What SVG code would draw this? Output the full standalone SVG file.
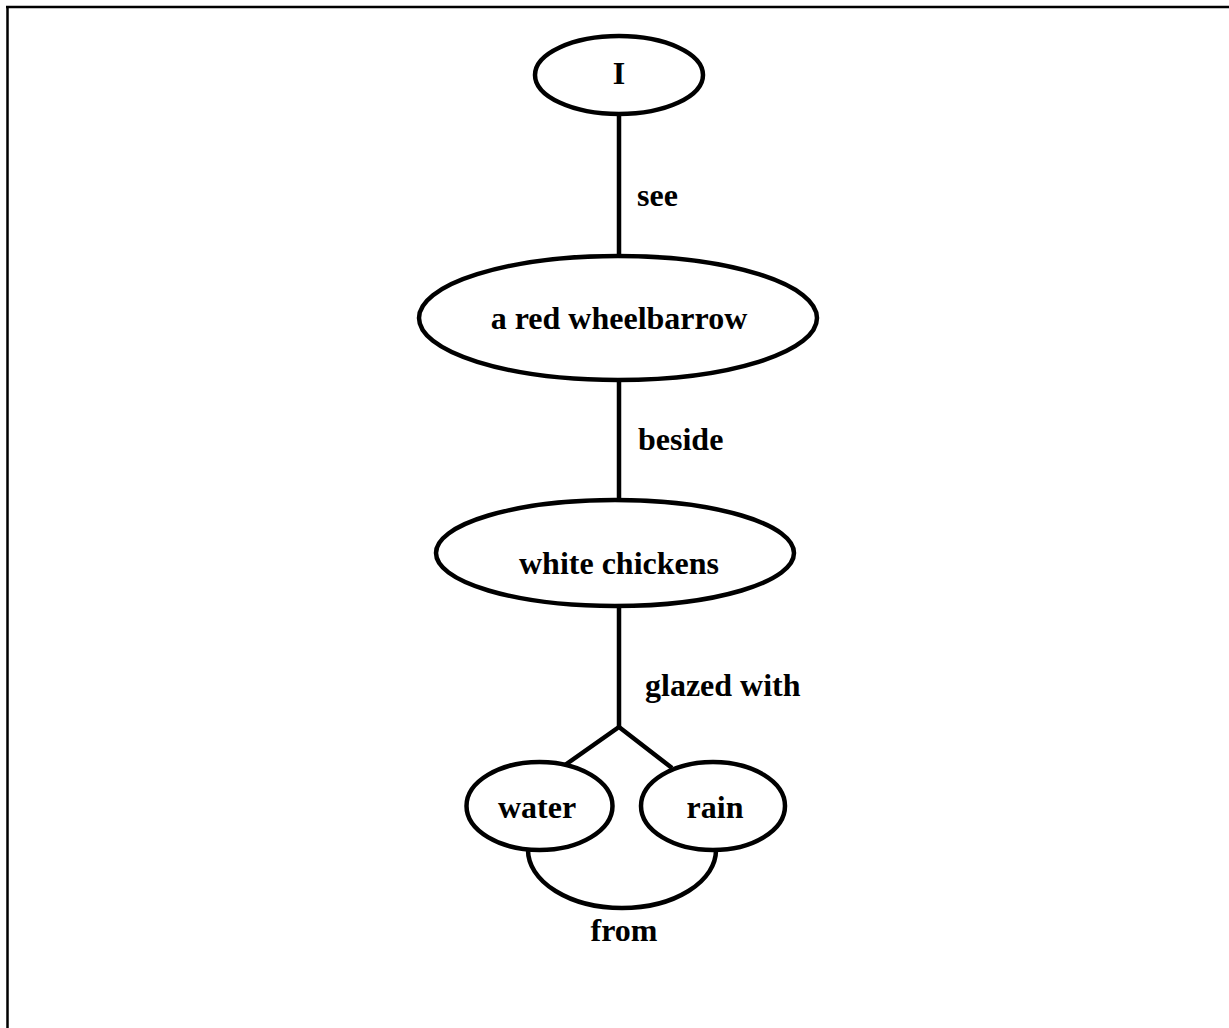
<svg xmlns="http://www.w3.org/2000/svg" width="1229" height="1028" viewBox="0 0 1229 1028">
  <style>
    .node { fill: #fff; stroke: #000; stroke-width: 4.5; }
    .edge { fill: none; stroke: #000; stroke-width: 4.5; }
    .frame { fill: none; stroke: #000; stroke-width: 2.5; }
    text { font-family: "Liberation Serif", "Times New Roman", serif; font-weight: bold; font-size: 32px; fill: #000; }
    .c { text-anchor: middle; }
  </style>
  <rect width="1229" height="1028" fill="#fff"/>

  <!-- page frame (top and left edges) -->
  <path class="frame" d="M6,7 H1229 M7.5,6 V1028"/>

  <!-- connectors and their labels -->
  <g id="connectors">
    <path class="edge" d="M619,114 V256"/>
    <path class="edge" d="M619,380 V500"/>
    <path class="edge" d="M619,606 V727"/>
    <path class="edge" d="M565,765 L619,727 L672,768"/>
    <path class="edge" d="M528,850 A94,58 0 0 0 716,850"/>
    <text x="637" y="206">see</text>
    <text x="638" y="450">beside</text>
    <text x="645" y="696">glazed with</text>
    <text x="624" y="941" class="c">from</text>
  </g>

  <g id="node-i">
    <ellipse class="node" cx="619" cy="75" rx="84" ry="39"/>
    <text x="619" y="84" class="c">I</text>
  </g>

  <g id="node-wheelbarrow">
    <ellipse class="node" cx="618" cy="318" rx="199" ry="62"/>
    <text x="619" y="329" class="c">a red wheelbarrow</text>
  </g>

  <g id="node-chickens">
    <ellipse class="node" cx="615" cy="553" rx="179" ry="53"/>
    <text x="619" y="574" class="c">white chickens</text>
  </g>

  <g id="node-water">
    <ellipse class="node" cx="539.5" cy="806" rx="73" ry="44"/>
    <text x="537" y="818" class="c">water</text>
  </g>

  <g id="node-rain">
    <ellipse class="node" cx="713" cy="806" rx="72" ry="44"/>
    <text x="715" y="818" class="c">rain</text>
  </g>
</svg>
